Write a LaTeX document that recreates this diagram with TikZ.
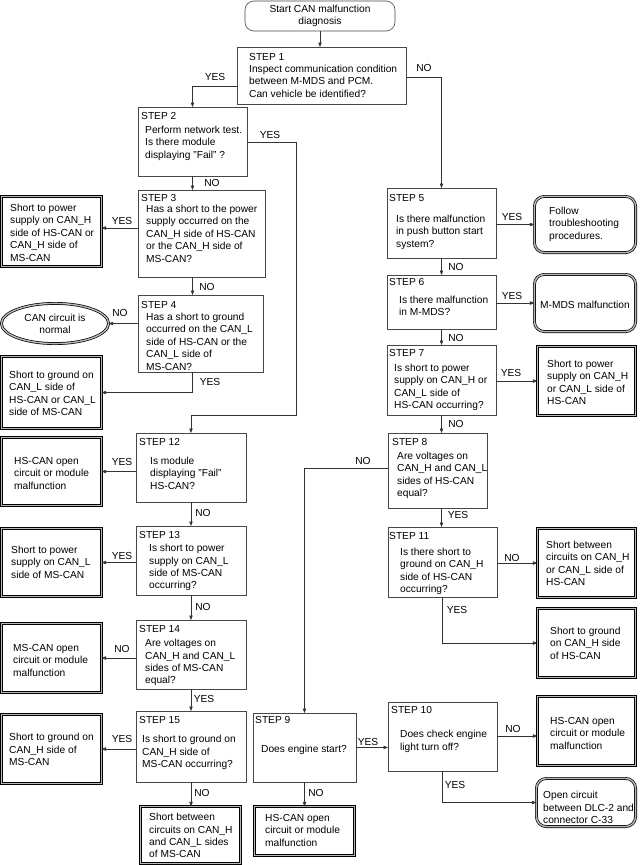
\documentclass[tikz,border=0pt]{standalone}
\usepackage{fontspec}
\setmainfont{Liberation Sans}
\usetikzlibrary{fit,shapes.geometric,arrows.meta}
\begin{document}
\begin{tikzpicture}[x=1pt,y=-1pt,
  every node/.style={font=\fontsize{10.2}{12.4}\selectfont},
  stepbox/.style={draw=black!72, line width=0.6pt, inner sep=0pt, outer sep=0pt},
  resbox/.style={draw=black, line width=0.7pt, double=black!28, double distance=1.4pt, inner sep=0pt, outer sep=0pt},
  rresbox/.style={resbox, rounded corners=10pt},
  startbox/.style={draw=black!72, line width=0.6pt, rounded corners=9pt, inner sep=0pt},
  txt/.style={anchor=north west, inner sep=0pt, align=left, yshift=4pt},
  ctxt/.style={inner sep=0pt, align=center},
  lab/.style={inner sep=0pt},
  arr/.style={draw=black!80, line width=0.6pt, -{Triangle[length=4.5pt,width=3.4pt]}}]
\useasboundingbox (0,0) rectangle (640,865);

% ---------- start ----------
\node[startbox, minimum width=150, minimum height=30, align=center] (st) at (320,16) {Start CAN malfunction\\diagnosis};

% ---------- step boxes ----------
\node[stepbox, fit={(237,47) (406,104)}] (s1) {};
\node[stepbox, fit={(138,107) (247,176)}] (s2) {};
\node[stepbox, fit={(138,190) (265,277)}] (s3) {};
\node[stepbox, fit={(138,295) (263,372)}] (s4) {};
\node[stepbox, fit={(136,433) (246,502)}] (s12) {};
\node[stepbox, fit={(136,526) (246,595)}] (s13) {};
\node[stepbox, fit={(136,620) (246,689)}] (s14) {};
\node[stepbox, fit={(136,711) (246,782)}] (s15) {};
\node[stepbox, fit={(387,188) (496,258)}] (s5) {};
\node[stepbox, fit={(387,275) (496,329)}] (s6) {};
\node[stepbox, fit={(387,345) (496,415)}] (s7) {};
\node[stepbox, fit={(388,433) (487,508)}] (s8) {};
\node[stepbox, fit={(388,527) (497,597)}] (s11) {};
\node[stepbox, fit={(253,713) (356,782)}] (s9) {};
\node[stepbox, fit={(388,702) (497,771)}] (s10) {};

% ---------- result boxes ----------
\node[resbox, fit={(1.4,196.4) (101.6,266.6)}] (l1) {};
\node[resbox, fit={(1.4,356.4) (101.6,428.6)}] (l2) {};
\node[resbox, fit={(1.4,437.4) (101.6,505.6)}] (l3) {};
\node[resbox, fit={(1.4,528.4) (101.6,596.6)}] (l4) {};
\node[resbox, fit={(1.4,623.4) (101.6,692.6)}] (l5) {};
\node[resbox, fit={(1.4,714.4) (101.6,783.6)}] (l6) {};
\node[resbox, fit={(140.4,806.4) (240.6,863.6)}] (bb) {};
\node[rresbox, fit={(534.4,196.4) (635.6,252.6)}] (fol) {};
\node[rresbox, fit={(534.4,274.4) (635.6,331.6)}] (mm) {};
\node[resbox, fit={(537.4,346.4) (635.6,415.6)}] (r3) {};
\node[resbox, fit={(537.4,528.4) (635.6,597.6)}] (r4) {};
\node[resbox, fit={(537.4,608.4) (635.6,677.6)}] (r5) {};
\node[resbox, fit={(537.4,696.4) (635.6,765.6)}] (r6) {};
\node[rresbox, fit={(536.4,778.4) (635.6,826.6)}] (oc) {};
\node[resbox, fit={(254.4,806.4) (354.6,855.6)}] (b9) {};
\node[resbox, ellipse, minimum width=107.2, minimum height=40.2, inner sep=0pt] (el) at (55,323.5) {};

% ---------- step texts ----------
\node[txt] (s1t) at (249,57) {STEP 1};
\node[txt] (s1q) at (249,69) {Inspect communication condition\\between M-MDS and PCM.\\Can vehicle be identified?};
\node[txt] (s2t) at (141,116) {STEP 2};
\node[txt] (s2q) at (145,130) {Perform network test.\\Is there module\\displaying "Fail" ?};
\node[txt] (s3t) at (141,198) {STEP 3};
\node[txt] (s3q) at (146,209) {Has a short to the power\\supply occurred on the\\CAN\_H side of HS-CAN\\or the CAN\_H side of\\MS-CAN?};
\node[txt] (s4t) at (141,305) {STEP 4};
\node[txt] (s4q) at (146,317) {Has a short to ground\\occurred on the CAN\_L\\side of HS-CAN or the\\CAN\_L side of\\MS-CAN?};
\node[txt] (s12t) at (139,442) {STEP 12};
\node[txt] (s12q) at (150,461) {Is module\\displaying "Fail"\\HS-CAN?};
\node[txt] (s13t) at (139,535) {STEP 13};
\node[txt] (s13q) at (149,548) {Is short to power\\supply on CAN\_L\\side of MS-CAN\\occurring?};
\node[txt] (s14t) at (139,629) {STEP 14};
\node[txt] (s14q) at (145,643) {Are voltages on\\CAN\_H and CAN\_L\\sides of MS-CAN\\equal?};
\node[txt] (s15t) at (139,720) {STEP 15};
\node[txt] (s15q) at (142,739) {Is short to ground on\\CAN\_H side of\\MS-CAN occurring?};
\node[txt] (s5t) at (389,198) {STEP 5};
\node[txt] (s5q) at (396,219) {Is there malfunction\\in push button start\\system?};
\node[txt] (s6t) at (389,282) {STEP 6};
\node[txt] (s6q) at (399,300) {Is there malfunction\\in M-MDS?};
\node[txt] (s7t) at (389,353) {STEP 7};
\node[txt] (s7q) at (394,368) {Is short to power\\supply on CAN\_H or\\CAN\_L side of\\HS-CAN occurring?};
\node[txt] (s8t) at (392,442) {STEP 8};
\node[txt] (s8q) at (397,456) {Are voltages on\\CAN\_H and CAN\_L\\sides of HS-CAN\\equal?};
\node[txt] (s11t) at (389,536) {STEP 11};
\node[txt] (s11q) at (400,552) {Is there short to\\ground on CAN\_H\\side of HS-CAN\\occurring?};
\node[txt] (s9t) at (255,720) {STEP 9};
\node[txt] (s9q) at (261,749) {Does engine start?};
\node[txt] (s10t) at (391,710) {STEP 10};
\node[txt] (s10q) at (400,734) {Does check engine\\light turn off?};

% ---------- result texts ----------
\node[txt] (l1x) at (10,208) {Short to power\\supply on CAN\_H\\side of HS-CAN or\\CAN\_H side of\\MS-CAN};
\node[txt] (l2x) at (9,375) {Short to ground on\\CAN\_L side of\\HS-CAN or CAN\_L\\side of MS-CAN};
\node[txt] (l3x) at (14,461) {HS-CAN open\\circuit or module\\malfunction};
\node[txt] (l4x) at (11,550) {Short to power\\supply on CAN\_L\\side of MS-CAN};
\node[txt] (l5x) at (13,648) {MS-CAN open\\circuit or module\\malfunction};
\node[txt] (l6x) at (9,737) {Short to ground on\\CAN\_H side of\\MS-CAN};
\node[txt] (bbx) at (149,817) {Short between\\circuits on CAN\_H\\and CAN\_L sides\\of MS-CAN};
\node[txt] (folx) at (549,211) {Follow\\troubleshooting\\procedures.};
\node[ctxt] (mmx) at (585,305) {M-MDS malfunction};
\node[txt] (r3x) at (547,364) {Short to power\\supply on CAN\_H\\or CAN\_L side of\\HS-CAN};
\node[txt] (r4x) at (546,545) {Short between\\circuits on CAN\_H\\or CAN\_L side of\\HS-CAN};
\node[txt] (r5x) at (550,631) {Short to ground\\on CAN\_H side\\of HS-CAN};
\node[txt] (r6x) at (550,721) {HS-CAN open\\circuit or module\\malfunction};
\node[txt] (ocx) at (543,795) {Open circuit\\between DLC-2 and\\connector C-33};
\node[txt] (b9x) at (265,818) {HS-CAN open\\circuit or module\\malfunction};
\node[ctxt] (elx) at (55,324) {CAN circuit is\\normal};

% ---------- labels ----------
\node[lab] (y1) at (215,77) {YES};
\node[lab] (n1) at (424,68) {NO};
\node[lab] (y2) at (270,135) {YES};
\node[lab] (n2) at (212,183) {NO};
\node[lab] (y3) at (122,221) {YES};
\node[lab] (n3) at (207,287) {NO};
\node[lab] (n4) at (120,313) {NO};
\node[lab] (y4) at (210,382) {YES};
\node[lab] (y12) at (122,462) {YES};
\node[lab] (n12) at (203,513) {NO};
\node[lab] (y13) at (122,556) {YES};
\node[lab] (n13) at (203,607) {NO};
\node[lab] (n14) at (122,649) {NO};
\node[lab] (y14) at (204,699) {YES};
\node[lab] (y15) at (122,739) {YES};
\node[lab] (n15) at (202,793) {NO};
\node[lab] (y5) at (512,217) {YES};
\node[lab] (n5) at (456,267) {NO};
\node[lab] (y6) at (512,296) {YES};
\node[lab] (n6) at (456,338) {NO};
\node[lab] (y7) at (511,373) {YES};
\node[lab] (n7) at (456,424) {NO};
\node[lab] (n8) at (363,461) {NO};
\node[lab] (y8) at (458,515) {YES};
\node[lab] (n11) at (512,558) {NO};
\node[lab] (y11) at (457,610) {YES};
\node[lab] (y9) at (368,742) {YES};
\node[lab] (n9) at (316,793) {NO};
\node[lab] (n10) at (513,729) {NO};
\node[lab] (y10) at (455,785) {YES};

% ---------- connectors ----------
\coordinate (b2) at (296,415);
\draw[arr] (st.south) -- (st.south |- s1.north);
\draw[arr] (s1.west |- 0,86) -| (s2.north);
\draw[arr] (s1.east |- 0,77) -| (s5.north);
\draw[arr] (s2.east |- 0,142) -| (b2) -| (s12.north);
\draw[arr] (s2.south) -- (s2.south |- s3.north);
\draw[arr] (s3.west |- 0,228) -- (l1.east |- 0,228);
\draw[arr] (s2.south |- s3.south) -- (s2.south |- s4.north);
\draw[arr] (s4.west |- el.east) -- (el.east);
\draw[arr] (s2.south |- s4.south) |- (l2.east);
\draw[arr] (s12.west |- l3.east) -- (l3.east);
\draw[arr] (s12.south) -- (s13.north);
\draw[arr] (s13.west |- l4.east) -- (l4.east);
\draw[arr] (s13.south) -- (s14.north);
\draw[arr] (s14.west |- l5.east) -- (l5.east);
\draw[arr] (s14.south) -- (s15.north);
\draw[arr] (s15.west |- l6.east) -- (l6.east);
\draw[arr] (s15.south) -- (s15.south |- bb.north);
\draw[arr] (s5.east |- fol.west) -- (fol.west);
\draw[arr] (s5.south) -- (s6.north);
\draw[arr] (s6.east |- mm.west) -- (mm.west);
\draw[arr] (s6.south) -- (s7.north);
\draw[arr] (s7.east |- r3.west) -- (r3.west);
\draw[arr] (s7.south) -- (s7.south |- s8.north);
\draw[arr] (s8.west |- 0,468) -| (s9.north);
\draw[arr] (s7.south |- s8.south) -- (s7.south |- s11.north);
\draw[arr] (s11.east |- r4.west) -- (r4.west);
\draw[arr] (s11.south) |- (r5.west);
\draw[arr] (s9.east) -- (s9.east -| s10.west);
\draw[arr] (s10.east |- 0,736) -- (r6.west |- 0,736);
\draw[arr] (s10.south) |- (oc.west);
\draw[arr] (s9.south) -- (b9.north);
\end{tikzpicture}
\end{document}
